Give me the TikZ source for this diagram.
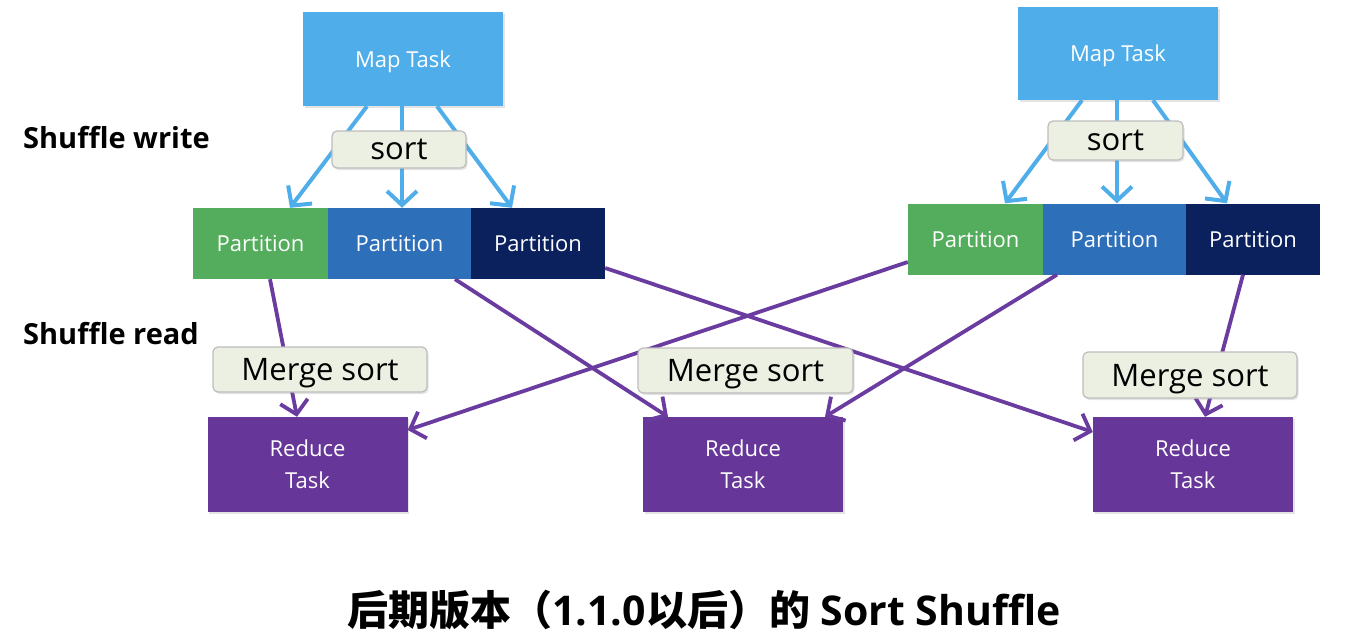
\documentclass[tikz,border=0pt]{standalone}
\usepackage{fontspec}
\setmainfont{Open Sans}
\newfontfamily\cjk{Noto Sans CJK SC}
\usetikzlibrary{arrows.meta,shadows}
\definecolor{mapblue}{HTML}{4FADEA}
\definecolor{pgreen}{HTML}{53AD5D}
\definecolor{pblue}{HTML}{2E6FBA}
\definecolor{pnavy}{HTML}{0A215D}
\definecolor{rpurple}{HTML}{663799}
\definecolor{apurple}{HTML}{6A3CA0}
\definecolor{labfill}{HTML}{ECF0E2}
\definecolor{labdraw}{HTML}{BDBDBD}
\tikzset{
  shd/.style={drop shadow={opacity=0.22,shadow xshift=1.5pt,shadow yshift=-2pt}},
  mapbox/.style={shd,fill=mapblue,text=white,minimum width=200pt,minimum height=94pt,inner sep=0pt,text depth=0pt,font=\fontsize{22}{24}\selectfont},
  partbox/.style={fill=#1,text=white,minimum height=71pt,inner sep=0pt,text depth=0pt,font=\fontsize{22}{24}\selectfont},
  redbox/.style={shd,fill=rpurple,text=white,minimum width=200pt,minimum height=95pt,inner sep=0pt,align=center,font=\fontsize{22}{32}\selectfont},
  lab/.style={shd,fill=labfill,draw=labdraw,line width=1.2pt,rounded corners=5pt,inner sep=0pt,text depth=0pt,font=\fontsize{31}{34}\selectfont},
  barrow/.style={draw=mapblue,line width=4pt,-{Straight Barb[length=14pt,width=30pt,line width=4pt]}},
  parrow/.style={draw=apurple,line width=3.8pt,-{Straight Barb[length=13pt,width=28pt,line width=3.8pt]}},
  side/.style={font=\bfseries\fontsize{29}{30}\selectfont,anchor=west,inner sep=0pt}
}
\begin{document}
\begin{tikzpicture}[x=1pt,y=-1pt]
\useasboundingbox (0,0) rectangle (1366,640);
% partitions
\node[partbox=pgreen,minimum width=135pt] (lg) at (260.5,243.5) {Partition};
\node[partbox=pblue,minimum width=143pt] (lb) at (399.5,243.5) {Partition};
\node[partbox=pnavy,minimum width=134pt] (ld) at (538,243.5) {Partition};
\node[partbox=pgreen,minimum width=135pt] (rg) at (975.5,239) {Partition};
\node[partbox=pblue,minimum width=143pt] (rb) at (1114.5,239) {Partition};
\node[partbox=pnavy,minimum width=134pt] (rd) at (1253,239) {Partition};
% map tasks
\node[mapbox] (lmap) at (403,59) {Map Task};
\node[mapbox,minimum height=93pt] (rmap) at (1118,53.5) {Map Task};
% reduce tasks
\node[redbox] (lred) at (307.5,464.5) {Reduce\\Task};
\node[redbox] (mred) at (743,464.5) {Reduce\\Task};
\node[redbox] (rred) at (1193,464.5) {Reduce\\Task};
% blue arrows
\draw[barrow] ([xshift=-36pt]lmap.south) -- ([xshift=29.5pt]lg.north);
\draw[barrow] ([xshift=-1pt]lmap.south) -- ([xshift=2.5pt]lb.north);
\draw[barrow] ([xshift=34pt]lmap.south) -- ([xshift=-26pt]ld.north);
\draw[barrow] ([xshift=-36pt]rmap.south) -- ([xshift=29.5pt]rg.north);
\draw[barrow] ([xshift=-1pt]rmap.south) -- ([xshift=2.5pt]rb.north);
\draw[barrow] ([xshift=35pt]rmap.south) -- ([xshift=-26pt]rd.north);
% purple arrows
\draw[parrow] ([xshift=9.5pt]lg.south) -- ([xshift=-10.5pt]lred.north);
\draw[parrow] ([xshift=55.5pt]lb.south) -- ([xshift=-75pt]mred.north);
\draw[parrow] ([yshift=-24.5pt]ld.east) -- ([yshift=32.5pt]rred.west);
\draw[parrow] ([yshift=-23pt]rg.west) -- ([yshift=34.5pt]lred.east);
\draw[parrow] ([xshift=-57.5pt]rb.south) -- ([xshift=82pt]mred.north);
\draw[parrow] ([xshift=-10pt]rd.south) -- ([xshift=12pt]rred.north);
% labels
\node[lab,minimum width=134pt,minimum height=37pt] (lsort) at (399,149.5) {sort};
\node[lab,minimum width=135pt,minimum height=39pt] (rsort) at (1115.5,140.5) {sort};
\node[lab,minimum width=214pt,minimum height=45pt] (lms) at (320,369.5) {Merge sort};
\node[lab,minimum width=215pt,minimum height=45pt] (mms) at (745.5,370.5) {Merge sort};
\node[lab,minimum width=214pt,minimum height=46pt] (rms) at (1190,375) {Merge sort};
% side labels
\node[side] (sw) at (23,138) {Shuffle write};
\node[side] (sr) at (23,334) {Shuffle read};
% title
\node[inner sep=0pt,font=\bfseries\fontsize{41}{44}\selectfont] (title) at (704,610) {{\cjk 后期版本（}1.1.0{\cjk 以后）的} Sort Shuffle};
\end{tikzpicture}
\end{document}
